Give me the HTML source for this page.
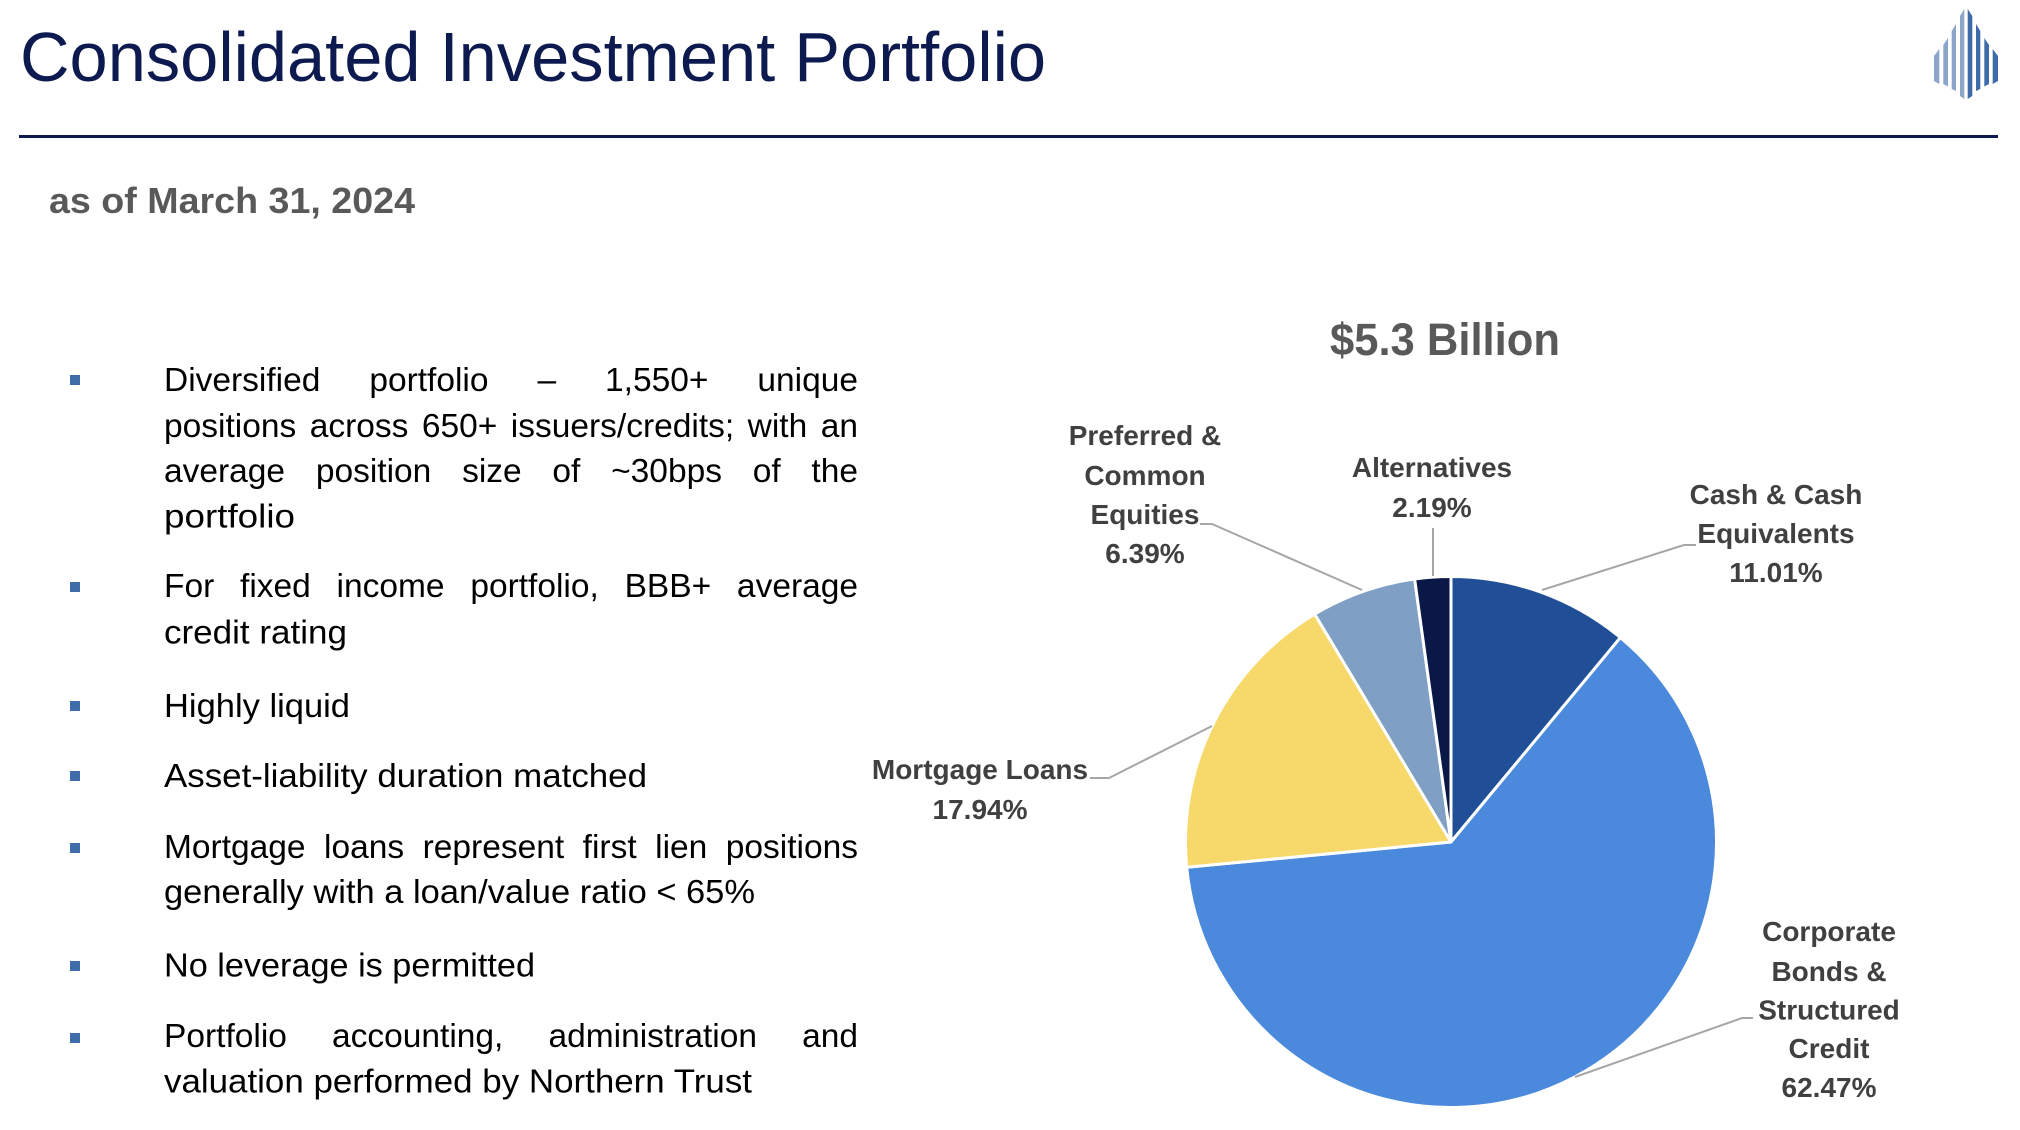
<!DOCTYPE html>
<html>
<head>
<meta charset="utf-8">
<style>
  html, body { margin:0; padding:0; background:#fff; }
  body { width:2020px; height:1130px; position:relative; overflow:hidden; }
  svg { position:absolute; left:0; top:0; }
  .j { position:absolute; left:164px; width:694px; font-family:"Liberation Sans", sans-serif; font-size:33.5px; line-height:33.5px; height:34px; color:#000; text-align:justify; text-align-last:justify; white-space:normal; }
</style>
</head>
<body>
<svg width="2020" height="1130" viewBox="0 0 2020 1130" xmlns="http://www.w3.org/2000/svg">
  <!-- Title -->
  <text x="20" y="81" font-family="Liberation Sans, sans-serif" font-size="70" fill="#0c1a4f" textLength="1026" lengthAdjust="spacingAndGlyphs">Consolidated Investment Portfolio</text>
  <rect x="19" y="135" width="1979" height="3" fill="#0c1a4f"/>

  <!-- Logo -->
  <g>
    <polygon points="1934,56 1939.3,49 1939.3,84 1934,81" fill="#8ba6ca"/>
    <polygon points="1943.3,45 1948,38 1948,86.5 1943.3,84" fill="#8ba6ca"/>
    <polygon points="1951.7,31 1956,24 1956,91 1951.7,89" fill="#8ba6ca"/>
    <polygon points="1960,16 1964.3,9 1964.3,99 1960,96" fill="#8ba6ca"/>
    <polygon points="1967.7,9 1972.3,16 1972.3,96 1967.7,99" fill="#3f6ca8"/>
    <polygon points="1976,24 1980.3,31 1980.3,89 1976,91" fill="#3f6ca8"/>
    <polygon points="1984.3,38 1989,45 1989,84 1984.3,86.5" fill="#3f6ca8"/>
    <polygon points="1992.7,49 1998,56 1998,81 1992.7,84" fill="#3f6ca8"/>
  </g>

  <!-- Subtitle -->
  <text x="49" y="213" font-family="Liberation Sans, sans-serif" font-weight="bold" font-size="36" fill="#595959" textLength="366" lengthAdjust="spacingAndGlyphs">as of March 31, 2024</text>

  <!-- Bullet markers -->
  <g fill="#406ca9">
    <rect x="70" y="375" width="10" height="10"/>
    <rect x="70" y="582" width="10" height="10"/>
    <rect x="70" y="701" width="10" height="10"/>
    <rect x="70" y="771" width="10" height="10"/>
    <rect x="70" y="843" width="10" height="10"/>
    <rect x="70" y="961" width="10" height="10"/>
    <rect x="70" y="1033" width="10" height="10"/>
  </g>

  <!-- Non-justified bullet lines -->
  <g font-family="Liberation Sans, sans-serif" font-size="33.5" fill="#000">
    <text x="164" y="527.5" textLength="131" lengthAdjust="spacingAndGlyphs">portfolio</text>
    <text x="164" y="643.5" textLength="183" lengthAdjust="spacingAndGlyphs">credit rating</text>
    <text x="164" y="717" textLength="186" lengthAdjust="spacingAndGlyphs">Highly liquid</text>
    <text x="164" y="787" textLength="483" lengthAdjust="spacingAndGlyphs">Asset-liability duration matched</text>
    <text x="164" y="903" textLength="591" lengthAdjust="spacingAndGlyphs">generally with a loan/value ratio &lt; 65%</text>
    <text x="164" y="976.5" textLength="371" lengthAdjust="spacingAndGlyphs">No leverage is permitted</text>
    <text x="164" y="1092.5" textLength="588" lengthAdjust="spacingAndGlyphs">valuation performed by Northern Trust</text>
  </g>

  <!-- Chart title -->
  <text x="1330" y="355" font-family="Liberation Sans, sans-serif" font-weight="bold" font-size="45" fill="#595959" textLength="230" lengthAdjust="spacingAndGlyphs">$5.3 Billion</text>

  <!-- Pie -->
  <g stroke="#ffffff" stroke-width="3" stroke-linejoin="round">
    <path d="M1451,842 L1451,576.5 A265.5,265.5 0 0 1 1620.4,637.6 Z" fill="#214f97"/>
    <path d="M1451,842 L1620.4,637.6 A265.5,265.5 0 1 1 1186.7,867.3 Z" fill="#4a89db"/>
    <path d="M1451,842 L1186.7,867.3 A265.5,265.5 0 0 1 1314.7,614.1 Z" fill="#f6d96a"/>
    <path d="M1451,842 L1314.7,614.1 A265.5,265.5 0 0 1 1414.6,579.0 Z" fill="#7f9fc5"/>
    <path d="M1451,842 L1414.6,579.0 A265.5,265.5 0 0 1 1451,576.5 Z" fill="#0a1848"/>
  </g>

  <!-- Leader lines -->
  <g stroke="#a6a6a6" stroke-width="2" fill="none">
    <polyline points="1200,524 1212,524 1362,590"/>
    <polyline points="1433,528 1433,576"/>
    <polyline points="1696,545 1684,545 1542,590"/>
    <polyline points="1090,778 1109,778 1212,726"/>
    <polyline points="1753,1018 1742,1018 1575,1077"/>
  </g>

  <!-- Labels -->
  <g font-family="Liberation Sans, sans-serif" font-weight="bold" font-size="28" fill="#404040" text-anchor="middle">
    <text x="1145" y="445">Preferred &amp;</text>
    <text x="1145" y="485">Common</text>
    <text x="1145" y="524">Equities</text>
    <text x="1145" y="563">6.39%</text>

    <text x="1432" y="477">Alternatives</text>
    <text x="1432" y="517">2.19%</text>

    <text x="1776" y="504">Cash &amp; Cash</text>
    <text x="1776" y="543">Equivalents</text>
    <text x="1776" y="582">11.01%</text>

    <text x="980" y="779">Mortgage Loans</text>
    <text x="980" y="819">17.94%</text>

    <text x="1829" y="941">Corporate</text>
    <text x="1829" y="981">Bonds &amp;</text>
    <text x="1829" y="1019.5">Structured</text>
    <text x="1829" y="1058">Credit</text>
    <text x="1829" y="1097">62.47%</text>
  </g>
</svg>

<!-- Justified bullet lines (top = baseline - 28.4) -->
<div class="j" style="top:364px;">Diversified portfolio – 1,550+ unique</div>
<div class="j" style="top:409.6px;">positions across 650+ issuers/credits; with an</div>
<div class="j" style="top:454.6px;">average position size of ~30bps of the</div>
<div class="j" style="top:569.6px;">For fixed income portfolio, BBB+ average</div>
<div class="j" style="top:830.6px;">Mortgage loans represent first lien positions</div>
<div class="j" style="top:1020px;">Portfolio accounting, administration and</div>
</body>
</html>
